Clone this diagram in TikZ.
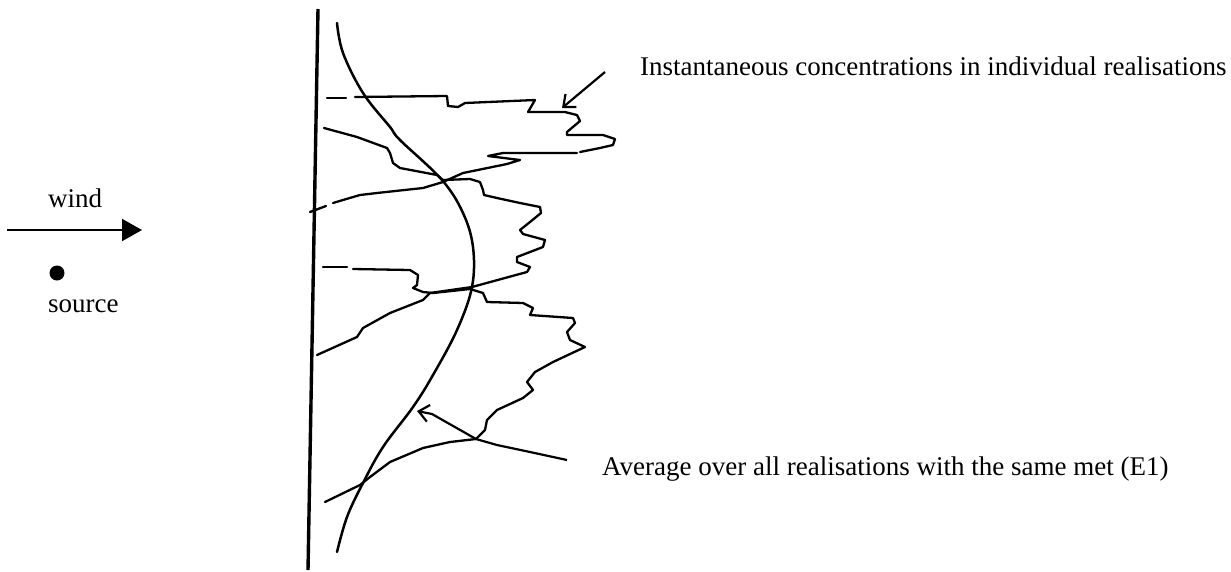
\documentclass[tikz,border=0pt]{standalone}
\usepackage{fontspec}
\setmainfont{Liberation Serif}
\usepackage{tikz}
\usetikzlibrary{arrows.meta}
\tikzset{
    every node/.style={font=\fontsize{27}{32}\selectfont},
    lbl/.style={inner sep=0pt,anchor=base west},
    axisline/.style={line width=3.4pt},
    realline/.style={line width=2.3pt,line join=round,line cap=round},
    meanline/.style={line width=2.5pt,line cap=round},
    pointer/.style={line width=2.2pt,line join=round,-{Straight Barb[length=10pt,width=17pt,line width=2.2pt]}},
    windarrow/.style={line width=2pt,-{Triangle[length=20pt,width=22pt]}},
    dotmark/.style={circle,fill=black,inner sep=0pt,minimum size=15pt}
}

\begin{document}
\begin{tikzpicture}[x=1pt,y=-1pt]
\useasboundingbox (0,0) rectangle (1231,571);

% wind and source
\coordinate (windTail) at (7,230);
\coordinate (windHead) at (142,230);
\node[lbl] (wind) at (48,207) {wind};
\draw[windarrow] (windTail) -- (windHead);
\node[dotmark] (srcdot) at (57,273) {};
\node[lbl] (src) at (48,312) {source};

% downwind axis
\coordinate (axisTop) at (318,9);
\coordinate (axisBot) at (308,570);
\draw[axisline] (axisTop) -- (axisBot);

% individual realisations
\draw[realline] (327,98) -- (346,98);
\draw[realline] (355,97) -- (447,96) -- (448,106) -- (458,107) -- (465,103) -- (535,100)
    -- (528,112) -- (565,112) -- (577,115) -- (580,121) -- (567,132) -- (567,135)
    -- (603,135) -- (615,139) -- (613,145) -- (600,148) -- (580,152);
\draw[realline] (577,153) -- (503,153) -- (488,156) -- (520,160) -- (507,164) -- (463,173)
    -- (443,182) -- (423,188) -- (377,193) -- (360,195) -- (343,200) -- (333,203);
\draw[realline] (326,206) -- (310,212);
\draw[realline] (324,128) -- (357,137) -- (387,148) -- (390,153) -- (393,163) -- (400,168)
    -- (437,175) -- (443,180) -- (470,179) -- (480,182) -- (483,190) -- (484,195)
    -- (497,198) -- (520,203) -- (540,207) -- (541,213) -- (530,222) -- (520,230)
    -- (523,234) -- (545,240) -- (543,247) -- (517,257) -- (517,262) -- (530,267)
    -- (527,272) -- (472,287) -- (430,293) -- (423,300) -- (390,313) -- (363,328)
    -- (357,337) -- (317,355);
\draw[realline] (323,267) -- (347,267);
\draw[realline] (353,269) -- (410,270) -- (418,275) -- (417,285) -- (413,288) -- (423,292)
    -- (433,293) -- (470,289) -- (483,293) -- (487,302) -- (523,303) -- (533,308)
    -- (530,315) -- (573,318) -- (575,323) -- (567,332) -- (570,340) -- (585,347)
    -- (553,362) -- (535,372) -- (527,382) -- (533,390) -- (523,398) -- (497,410)
    -- (487,420) -- (485,430) -- (476,439) -- (450,442) -- (423,448) -- (390,462)
    -- (370,477) -- (360,485) -- (325,502);

% ensemble mean
\draw[meanline] plot[smooth,tension=0.6] coordinates {(337,23) (343,53) (363,93) (390,127)
    (400,140) (442,180) (463,213) (473,247) (472,287) (457,330) (433,375) (413,407)
    (383,447) (363,483) (347,517) (337,552)};

% labels and pointers
\node[lbl] (inst) at (640,75) {Instantaneous concentrations in individual realisations};
\coordinate (instTail) at (605,72);
\coordinate (instTip) at (562,108);
\draw[pointer] (instTail) -- (instTip);

\node[lbl] (avg) at (602,475) {Average over all realisations with the same met (E1)};
\coordinate (avgTail) at (567,460);
\coordinate (avgTip) at (417,411);
\draw[pointer] (avgTail) -- (530,452) -- (497,445) -- (476,439) -- (432,414) -- (avgTip);
\end{tikzpicture}
\end{document}
